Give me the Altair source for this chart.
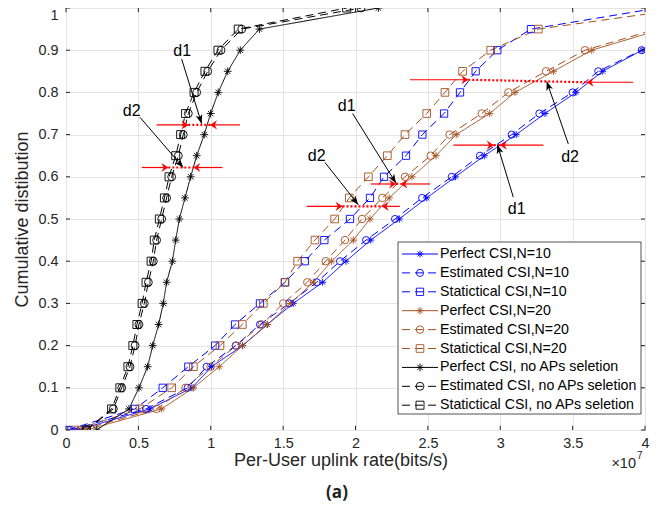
import math
import altair as alt
import pandas as pd

# ---------------- data (x in units of 1e7 bits/s) ----------------
levels = [0.0, 0.05, 0.1, 0.15, 0.2, 0.25, 0.3, 0.35, 0.4, 0.45, 0.5,
          0.55, 0.6, 0.65, 0.7, 0.75, 0.8, 0.85, 0.9, 0.95, 1.0]

series_names = [
    "Perfect CSI,N=10", "Estimated CSI,N=10", "Statictical CSI,N=10",
    "Perfect CSI,N=20", "Estimated CSI,N=20", "Statictical CSI,N=20",
    "Perfect CSI, no APs seletion", "Estimated CSI, no APs seletion",
    "Statictical CSI, no APs seletion",
]

perfect_n10 = [0.08, 0.58, 0.87, 1.006, 1.22, 1.39, 1.57, 1.773, 1.934, 2.105, 2.303,
               2.492, 2.69, 2.89, 3.11, 3.309, 3.523, 3.708, 3.98, 4.4, 5.0]
estimated_n10 = [0.03, 0.553, 0.84, 0.972, 1.172, 1.34, 1.543, 1.732, 1.893, 2.073, 2.273,
                 2.46, 2.665, 2.86, 3.079, 3.27, 3.5, 3.677, 3.977, 4.35, 4.9]
statistical_n10 = [0.01, 0.477, 0.668, 0.845, 1.03, 1.168, 1.34, 1.513, 1.65, 1.785, 1.962,
                   2.1, 2.197, 2.349, 2.462, 2.612, 2.722, 2.83, 2.98, 3.212, 4.09]
perfect_n20 = [0.14, 0.661, 0.88, 1.059, 1.22, 1.391, 1.55, 1.709, 1.835, 1.985, 2.1,
               2.233, 2.39, 2.556, 2.696, 2.927, 3.102, 3.367, 3.632, 4.12, 4.6]
estimated_n20 = [0.1, 0.626, 0.825, 0.999, 1.176, 1.352, 1.501, 1.667, 1.794, 1.927, 2.045,
                 2.185, 2.342, 2.519, 2.65, 2.872, 3.056, 3.316, 3.585, 4.08, 4.55]
statistical_n20 = [0.06, 0.511, 0.73, 0.88, 1.064, 1.218, 1.363, 1.513, 1.6, 1.72, 1.856,
                   1.957, 2.089, 2.22, 2.342, 2.492, 2.618, 2.74, 2.934, 3.263, 4.31]
perfect_all = [0.212, 0.435, 0.504, 0.564, 0.599, 0.64, 0.672, 0.695, 0.735, 0.758, 0.783,
               0.822, 0.861, 0.903, 0.955, 0.999, 1.052, 1.117, 1.204, 1.336, 2.158]
estimated_all = [0.143, 0.327, 0.385, 0.442, 0.477, 0.504, 0.541, 0.569, 0.603, 0.626, 0.661,
                 0.695, 0.73, 0.776, 0.81, 0.845, 0.903, 0.979, 1.071, 1.214, 2.038]
statistical_all = [0.14, 0.315, 0.372, 0.428, 0.462, 0.49, 0.526, 0.553, 0.588, 0.61, 0.645,
                   0.68, 0.712, 0.758, 0.792, 0.826, 0.885, 0.96, 1.05, 1.19, 1.939]

series_values = [perfect_n10, estimated_n10, statistical_n10,
                 perfect_n20, estimated_n20, statistical_n20,
                 perfect_all, estimated_all, statistical_all]

# red measurement arrows (d1 / d2)
red_y_left = [0.723, 0.622, 0.530, 0.583, 0.675, 0.830]
red_y_right = [0.723, 0.622, 0.530, 0.583, 0.675, 0.824]
red_left_from = [0.626, 0.523, 1.663, 2.105, 2.676, 2.376]
red_left_tip = [0.845, 0.707, 1.910, 2.280, 2.955, 2.779]
red_right_from = [1.202, 1.080, 2.307, 2.515, 3.298, 3.919]
red_right_tip = [0.995, 0.880, 2.181, 2.310, 2.998, 3.597]

# text arrows
label_text = ["d1", "d2", "d2", "d1", "d1", "d2"]
label_x = [0.803, 0.454, 1.732, 1.939, 3.114, 3.482]
label_y = [0.898, 0.757, 0.650, 0.768, 0.524, 0.646]
arrow_x1 = [0.799, 0.511, 1.789, 1.980, 3.090, 3.470]
arrow_y1 = [0.879, 0.741, 0.634, 0.750, 0.552, 0.678]
arrow_x2 = [0.937, 0.810, 2.019, 2.280, 2.980, 3.321]
arrow_y2 = [0.726, 0.622, 0.534, 0.585, 0.676, 0.826]

x_ticks = [0, 0.5, 1, 1.5, 2, 2.5, 3, 3.5, 4]
y_ticks = [0, 0.1, 0.2, 0.3, 0.4, 0.5, 0.6, 0.7, 0.8, 0.9, 1]

# ---------------- styling ----------------
W, H = 579, 422
FONT = "Liberation Sans"
AX = "#262626"
BLUE, BROWN, BLACK, RED = "#0000FF", "#A5501E", "#000000", "#FF0000"
STAR = "M0,-1L0,1M-1,0L1,0M-0.7,-0.7L0.7,0.7M-0.7,0.7L0.7,-0.7"
HEAD_RED = "M0,0L-2,-1.3L-1.3,0L-2,1.3Z"
HEAD_BLACK = "M0,0L-2,-0.75L-1.5,0L-2,0.75Z"

colors = [BLUE] * 3 + [BROWN] * 3 + [BLACK] * 3
dashes = [[1, 0], [8, 5], [8, 5]] * 3
shapes = [STAR, "circle", "square"] * 3
msizes = [49, 64, 42] * 3

color_s = alt.Scale(domain=series_names, range=colors)
dash_s = alt.Scale(domain=series_names, range=dashes)
shape_s = alt.Scale(domain=series_names, range=shapes)
size_s = alt.Scale(domain=series_names, range=msizes)

xscale = alt.Scale(domain=[0, 4], nice=False, zero=False)
yscale = alt.Scale(domain=[0, 1], nice=False, zero=False)
xaxis = alt.Axis(values=x_ticks, format="~g", title="Per-User uplink rate(bits/s)",
                 grid=True, gridColor="#E4E4E4", gridWidth=1, tickSize=0, domain=False,
                 labelFlush=False,
                 labelFont=FONT, labelFontSize=14.4, labelColor=AX, labelPadding=6,
                 titleFont=FONT, titleFontSize=18, titleFontWeight="normal",
                 titleColor=AX, titlePadding=2, titleX=W / 2 - 15)
yaxis = alt.Axis(values=y_ticks, format="~g", title="Cumulative distibution",
                 grid=True, gridColor="#E4E4E4", gridWidth=1, tickSize=0, domain=False,
                 labelFlush=False,
                 labelFont=FONT, labelFontSize=14.4, labelColor=AX, labelPadding=8,
                 labelBaseline={"condition": {"test": "datum.value == 1", "value": "top"},
                                "value": "middle"},
                 titleFont=FONT, titleFontSize=18, titleFontWeight="normal",
                 titleColor=AX, titlePadding=6)


def X(f="x"):
    return alt.X(f + ":Q", scale=xscale, axis=xaxis)


def Y(f="y"):
    return alt.Y(f + ":Q", scale=yscale, axis=yaxis)


rows = []
for name, vals in zip(series_names, series_values):
    for i, (xv, yv) in enumerate(zip(vals, levels)):
        rows.append({"series": name, "x": xv, "y": yv, "i": i})
df = pd.DataFrame(rows)

base = alt.Chart(df)
lines = base.mark_line(clip=True, strokeWidth=1).encode(
    x=X(), y=Y(),
    color=alt.Color("series:N", scale=color_s, legend=None),
    strokeDash=alt.StrokeDash("series:N", scale=dash_s, legend=None),
    order=alt.Order("i:Q"),
)
points = base.mark_point(clip=True, filled=False, strokeWidth=0.9, opacity=1).encode(
    x=X(), y=Y(),
    color=alt.Color("series:N", scale=color_s, legend=None),
    shape=alt.Shape("series:N", scale=shape_s, legend=None),
    size=alt.Size("series:N", scale=size_s, legend=None),
)

# inward ticks (MATLAB box style)
tick_rows = []
for t in x_ticks:
    tick_rows.append({"x": t, "y": 0, "x2": t, "y2": 0.01})
    tick_rows.append({"x": t, "y": 1, "x2": t, "y2": 0.99})
for t in y_ticks:
    tick_rows.append({"x": 0, "y": t, "x2": 0.028, "y2": t})
    tick_rows.append({"x": 4, "y": t, "x2": 3.972, "y2": t})
ticks = alt.Chart(pd.DataFrame(tick_rows)).mark_rule(color=AX, strokeWidth=1).encode(
    x=X(), y=Y(), x2="x2:Q", y2="y2:Q")

# red arrows
red_rows, red_heads, red_dots = [], [], []
for k in range(len(red_y_left)):
    red_rows.append({"x": red_left_from[k], "x2": red_left_tip[k], "y": red_y_left[k], "y2": red_y_left[k]})
    red_rows.append({"x": red_right_from[k], "x2": red_right_tip[k], "y": red_y_right[k], "y2": red_y_right[k]})
    red_heads.append({"x": red_left_tip[k], "y": red_y_left[k], "ang": 0})
    red_heads.append({"x": red_right_tip[k], "y": red_y_right[k], "ang": 180})
    red_dots.append({"x": red_left_tip[k], "x2": red_right_tip[k], "y": red_y_left[k], "y2": red_y_right[k]})
red_lines = alt.Chart(pd.DataFrame(red_rows)).mark_rule(color=RED, strokeWidth=1.2).encode(
    x=X(), y=Y(), x2="x2:Q", y2="y2:Q")
red_dotted = alt.Chart(pd.DataFrame(red_dots)).mark_rule(
    color=RED, strokeWidth=2.2, strokeDash=[2, 2]).encode(x=X(), y=Y(), x2="x2:Q", y2="y2:Q")
red_tips = alt.Chart(pd.DataFrame(red_heads)).mark_point(
    shape=HEAD_RED, filled=True, color=RED, size=49, opacity=1, strokeWidth=0).encode(
    x=X(), y=Y(), angle=alt.Angle("ang:Q", scale=None))

# black text arrows
blk_rows, blk_heads, lbl_rows = [], [], []
for k in range(len(label_text)):
    blk_rows.append({"x": arrow_x1[k], "y": arrow_y1[k], "x2": arrow_x2[k], "y2": arrow_y2[k]})
    dxp = (arrow_x2[k] - arrow_x1[k]) * W / 4.0
    dyp = -(arrow_y2[k] - arrow_y1[k]) * H
    ang = math.degrees(math.atan2(dyp, dxp)) % 360
    blk_heads.append({"x": arrow_x2[k], "y": arrow_y2[k], "ang": ang})
    lbl_rows.append({"x": label_x[k], "y": label_y[k], "t": label_text[k]})
blk_lines = alt.Chart(pd.DataFrame(blk_rows)).mark_rule(color=BLACK, strokeWidth=1).encode(
    x=X(), y=Y(), x2="x2:Q", y2="y2:Q")
blk_tips = alt.Chart(pd.DataFrame(blk_heads)).mark_point(
    shape=HEAD_BLACK, filled=True, color=BLACK, size=81, opacity=1, strokeWidth=0).encode(
    x=X(), y=Y(), angle=alt.Angle("ang:Q", scale=None))
labels = alt.Chart(pd.DataFrame(lbl_rows)).mark_text(
    font=FONT, fontSize=16, color=BLACK, align="center", baseline="middle").encode(
    x=X(), y=Y(), text="t:N")

# legend (drawn by hand, MATLAB style)
leg_df = pd.DataFrame({"series": series_names, "r": list(range(len(series_names)))})
one = pd.DataFrame({"a": [0]})
leg_box = alt.Chart(one).mark_rect(fill="white", stroke=AX, strokeWidth=0.8).encode(
    x=alt.value(332), x2=alt.value(575), y=alt.value(234), y2=alt.value(406))
leg_base = alt.Chart(leg_df).transform_calculate(ly="246 + datum.r * 18.9")
LY = alt.Y("ly:Q", scale=None, axis=None)
leg_lines = leg_base.mark_rule(strokeWidth=1).encode(
    x=alt.value(336), x2=alt.value(372), y=LY,
    color=alt.Color("series:N", scale=color_s, legend=None),
    strokeDash=alt.StrokeDash("series:N", scale=dash_s, legend=None))
leg_pts = leg_base.mark_point(filled=False, strokeWidth=0.9, opacity=1).encode(
    x=alt.value(354), y=LY,
    color=alt.Color("series:N", scale=color_s, legend=None),
    shape=alt.Shape("series:N", scale=shape_s, legend=None),
    size=alt.Size("series:N", scale=size_s, legend=None))
leg_txt = leg_base.mark_text(font=FONT, fontSize=14.2, color="#000000", align="left",
                             baseline="middle").encode(
    x=alt.value(374), y=LY, text="series:N")

# exponent and caption
exp_base = alt.Chart(one).mark_text(font=FONT, fontSize=14.5, color=AX, align="right",
                                    baseline="middle").encode(
    x=alt.value(570), y=alt.value(456), text=alt.value("×10"))
exp_sup = alt.Chart(one).mark_text(font=FONT, fontSize=10, color=AX, align="left",
                                   baseline="middle").encode(
    x=alt.value(571), y=alt.value(448), text=alt.value("7"))
caption = alt.Chart(one).mark_text(font="Open Sans", fontSize=17, fontWeight="bold",
                                   color="#222222", align="center", baseline="middle").encode(
    x=alt.value(271), y=alt.value(485), text=alt.value("(a)"))

chart = alt.layer(
    lines, points, ticks, red_lines, red_dotted, red_tips, blk_lines, blk_tips, labels,
    leg_box, leg_lines, leg_pts, leg_txt, exp_base, exp_sup, caption,
).properties(
    width=W, height=H,
    padding={"left": 58, "top": 0, "right": 19, "bottom": 84},
    autosize=alt.AutoSizeParams(type="none"),
    background="white",
).configure_view(stroke=AX, strokeWidth=1)

chart.save("out.html", embed_options={"renderer": "svg", "actions": False})
